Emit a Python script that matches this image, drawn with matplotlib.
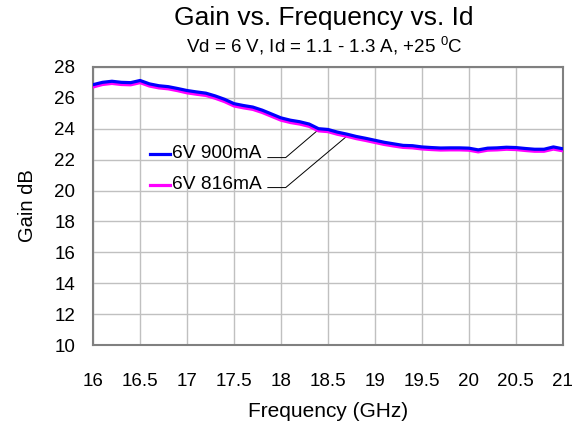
import matplotlib
matplotlib.use("Agg")
import matplotlib.pyplot as plt
import numpy as np

plt.rcParams['font.family'] = ['Liberation Sans', 'DejaVu Sans']

# Frequency sweep (GHz)
freq = [16.0, 16.1, 16.2, 16.3, 16.4, 16.5, 16.6, 16.7, 16.8, 16.9,
        17.0, 17.1, 17.2, 17.3, 17.4, 17.5, 17.6, 17.7, 17.8, 17.9,
        18.0, 18.1, 18.2, 18.3, 18.4, 18.5, 18.6, 18.7, 18.8, 18.9,
        19.0, 19.1, 19.2, 19.3, 19.4, 19.5, 19.6, 19.7, 19.8, 19.9,
        20.0, 20.1, 20.2, 20.3, 20.4, 20.5, 20.6, 20.7, 20.8, 20.9, 21.0]

# Gain (dB) at 6 V, 900 mA
gain_900 = [26.85, 27.00, 27.07, 27.00, 26.98, 27.12, 26.90, 26.78, 26.72, 26.60,
            26.47, 26.38, 26.30, 26.12, 25.90, 25.62, 25.50, 25.40, 25.20, 24.95,
            24.70, 24.55, 24.45, 24.30, 24.00, 23.95, 23.78, 23.65, 23.50, 23.38,
            23.25, 23.12, 23.02, 22.92, 22.90, 22.82, 22.78, 22.75, 22.76, 22.76,
            22.74, 22.63, 22.74, 22.76, 22.80, 22.78, 22.72, 22.67, 22.67, 22.82, 22.70]

# Gain (dB) at 6 V, 816 mA
gain_816 = [26.70, 26.86, 26.93, 26.86, 26.84, 26.98, 26.76, 26.64, 26.58, 26.46,
            26.32, 26.23, 26.15, 25.97, 25.75, 25.47, 25.35, 25.25, 25.05, 24.80,
            24.55, 24.40, 24.30, 24.15, 23.86, 23.81, 23.64, 23.51, 23.36, 23.24,
            23.11, 22.98, 22.88, 22.79, 22.76, 22.69, 22.65, 22.62, 22.63, 22.63,
            22.61, 22.50, 22.61, 22.63, 22.67, 22.65, 22.59, 22.54, 22.54, 22.68, 22.57]

series_names = ["6V 900mA", "6V 816mA"]
series_colors = ["#0000FF", "#FF00FF"]

x_ticks = [16, 16.5, 17, 17.5, 18, 18.5, 19, 19.5, 20, 20.5, 21]
x_tick_labels = ["16", "16.5", "17", "17.5", "18", "18.5", "19", "19.5", "20", "20.5", "21"]
y_ticks = [10, 12, 14, 16, 18, 20, 22, 24, 26, 28]

fig = plt.figure(figsize=(5.82, 4.26), dpi=100)
ax = fig.add_axes([0.160, 0.190, 0.807, 0.653])

ax.plot(freq, gain_816, color=series_colors[1], lw=2.3, solid_joinstyle='round', zorder=3)
ax.plot(freq, gain_900, color=series_colors[0], lw=2.3, solid_joinstyle='round', zorder=4)

ax.set_xlim(16, 21)
ax.set_ylim(10, 28)
ax.set_xticks(x_ticks)
ax.set_xticklabels(x_tick_labels)
ax.set_yticks(y_ticks)
ax.tick_params(axis='both', length=0, labelsize=13.5, colors='black')
ax.tick_params(axis='x', pad=20)
ax.tick_params(axis='y', pad=13)
ax.grid(True, color='#C0C0C0', lw=1.0)
ax.set_axisbelow(True)
for s in ax.spines.values():
    s.set_color('#808080')
    s.set_linewidth(1.5)

ax.set_xlabel("Frequency (GHz)", fontsize=15, labelpad=9)
ax.set_ylabel("Gain dB", fontsize=14.5, labelpad=12)

fig.text(0.557, 0.958, "Gain vs. Frequency vs. Id", ha='center', va='center', fontsize=19)
fig.text(0.557, 0.892, r"Vd = 6 V, Id = 1.1 - 1.3 A, +25 $^{\mathregular{0}}$C",
         ha='center', va='center', fontsize=13.5)

# Series-name labels with legend keys and leader lines to the curves
label_y = [22.37, 20.36]
leader_y = [22.13, 20.19]
leader_x = [18.41, 18.70]
curves = [gain_900, gain_816]
for name, col, ly, ldy, lx, curve in zip(series_names, series_colors, label_y, leader_y, leader_x, curves):
    ax.plot([16.61, 16.82], [ly, ly], color=col, lw=2.3, zorder=5)
    ax.text(16.84, ly, name, ha='left', va='center', fontsize=13.8, zorder=5)
    # point on the curve where the leader line meets it
    cy = float(np.interp(lx, freq, curve))
    ax.plot([17.86, 18.05, lx], [ldy, ldy, cy], color='black', lw=0.7, zorder=2)

fig.savefig("out.png", dpi=100)
